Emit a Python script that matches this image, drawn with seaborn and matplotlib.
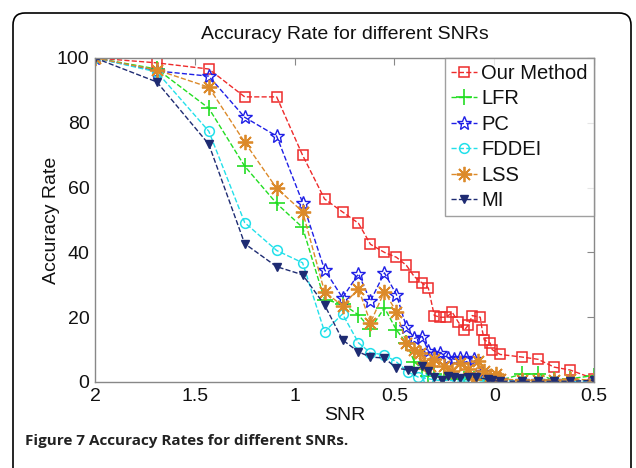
import matplotlib
matplotlib.use("Agg")
import matplotlib.pyplot as plt
from matplotlib.patches import FancyBboxPatch
import seaborn as sns

# ---------------- data ----------------
series_names = ["Our Method", "LFR", "PC", "FDDEI", "LSS", "MI"]

x_our = [2.0, 1.69, 1.43, 1.25, 1.09, 0.96, 0.85, 0.76, 0.68, 0.62, 0.55, 0.49, 0.44, 0.40,
         0.36, 0.33, 0.30, 0.27, 0.24, 0.21, 0.18, 0.15, 0.13, 0.11, 0.07, 0.06, 0.05, 0.02,
         0.01, -0.03, -0.14, -0.22, -0.30, -0.38, -0.50]
y_our = [100, 98.5, 96.6, 88, 88, 70, 56.5, 52.5, 49, 42.5, 40, 38.5, 36, 32.5,
         30.5, 29, 20.5, 20, 20, 21.5, 18.5, 16, 17.5, 20.5, 20, 16, 13, 12,
         10, 8.5, 7.7, 7, 4.6, 3.7, 1]

x_lfr = [2.0, 1.69, 1.43, 1.25, 1.09, 0.96, 0.85, 0.76, 0.68, 0.62, 0.55, 0.49, 0.44, 0.40,
         0.36, 0.33, 0.30, 0.25, 0.20, 0.15, 0.10, 0.05, 0.0, -0.03, -0.14, -0.22, -0.30,
         -0.38, -0.50]
y_lfr = [100, 96.6, 84.5, 66.6, 55.1, 47.7, 25.4, 24.1, 20.7, 16.4, 22.9, 16.1, 12, 6.2,
         4, 2, 2.5, 1.5, 1, 1, 1, 0.5, 1, 0.5, 2.5, 2.5, 0.5, 1, 2]

x_pc = [2.0, 1.69, 1.43, 1.25, 1.09, 0.96, 0.85, 0.76, 0.68, 0.62, 0.55, 0.49, 0.44, 0.40,
        0.36, 0.33, 0.30, 0.27, 0.23, 0.20, 0.17, 0.14, 0.10, 0.06, 0.02, -0.03, -0.14,
        -0.22, -0.30, -0.38, -0.50]
y_pc = [100, 96, 94.4, 81.7, 75.9, 55.4, 34.7, 26, 33.4, 25, 33.7, 27, 17, 13.5,
        14, 9.5, 8.5, 9, 7.5, 7, 7.5, 7.5, 7, 3, 1, 0.5, 0.3,
        0.3, 0.3, 0.3, 0.3]

x_fddei = [2.0, 1.69, 1.43, 1.25, 1.09, 0.96, 0.85, 0.76, 0.68, 0.62, 0.55, 0.49, 0.43, 0.38,
           0.33, 0.28, 0.23, 0.18, 0.13, 0.08, 0.03, -0.03, -0.14, -0.22, -0.30, -0.38, -0.50]
y_fddei = [100, 95.7, 77.4, 49.2, 40.6, 36.8, 15.5, 21, 12.1, 9, 8.4, 6.2, 3, 1.5,
           1, 0.5, 0.5, 0.3, 0.3, 0.3, 0.3, 0.3, 0.3, 0.3, 0.3, 0.3, 0.3]

x_lss = [2.0, 1.69, 1.43, 1.25, 1.09, 0.96, 0.85, 0.76, 0.68, 0.62, 0.55, 0.49, 0.44, 0.40,
         0.37, 0.35, 0.32, 0.30, 0.25, 0.21, 0.17, 0.13, 0.10, 0.08, 0.05, 0.02, -0.01,
         -0.03, -0.14, -0.22, -0.30, -0.38, -0.50]
y_lss = [100, 96.3, 91, 74, 59.8, 52.6, 27.9, 23.5, 28.8, 18.3, 27.9, 21.7, 12, 10,
         9, 6, 5, 7, 5, 3.5, 6, 4, 1, 6.5, 3.5, 2, 2.5,
         1, 0.5, 0.5, 0.5, 1, 0.5]

x_mi = [2.0, 1.69, 1.43, 1.25, 1.09, 0.96, 0.85, 0.76, 0.68, 0.62, 0.55, 0.49, 0.43, 0.40,
        0.36, 0.33, 0.30, 0.26, 0.23, 0.20, 0.17, 0.13, 0.09, 0.03, 0.01, -0.03, -0.14,
        -0.22, -0.30, -0.38, -0.50]
y_mi = [100, 92.6, 73.4, 42.7, 35.6, 33.1, 23.8, 13, 9.3, 7.7, 7.4, 4.3, 3.7, 3.5,
        5, 3.5, 1.5, 0.5, 2, 1.5, 1.3, 1.5, 1.5, 0.8, 0.5, 0.2, 0.2,
        0.2, 0.2, 0.2, 0.5]

x_ticks = [2, 1.5, 1, 0.5, 0, -0.5]
x_tick_labels = ["2", "1.5", "1", "0.5", "0", "0.5"]
y_ticks = [0, 20, 40, 60, 80, 100]

title_text = "Accuracy Rate for different SNRs"
x_label = "SNR"
y_label = "Accuracy Rate"
caption = "Figure 7 Accuracy Rates for different SNRs."

# ---------------- style ----------------
sns.set_style("white")
plt.rcParams["font.family"] = ["Liberation Sans", "DejaVu Sans"]

W, H = 636, 468
fig = plt.figure(figsize=(W / 100, H / 100), dpi=100)

# background frame (pixel coordinates)
bg = fig.add_axes([0, 0, 1, 1], zorder=-5)
bg.set_xlim(0, W)
bg.set_ylim(H, 0)
bg.axis("off")
bg.add_patch(FancyBboxPatch((13, 13), 618, 520, boxstyle="round,pad=0,rounding_size=12",
                            fc="white", ec="black", lw=1.2))
bg.text(25, 441, caption, fontsize=11, fontweight="bold", family=["Open Sans", "DejaVu Sans"],
        va="center", ha="left", color="#222222")

left, right, top, bottom = 95, 594, 58, 382
ax = fig.add_axes([left / W, 1 - bottom / H, (right - left) / W, (bottom - top) / H])

specs = [
    (x_our, y_our, "#ee2b2b", "s", dict(markerfacecolor="none", markersize=7, markeredgewidth=1.1)),
    (x_lfr, y_lfr, "#22dd22", "+", dict(markersize=11, markeredgewidth=1.2)),
    (x_pc, y_pc, "#1f1fe6", "*", dict(markerfacecolor="none", markersize=10, markeredgewidth=1.0)),
    (x_fddei, y_fddei, "#22e0ea", "o", dict(markerfacecolor="none", markersize=7, markeredgewidth=1.1)),
    (x_lss, y_lss, "#dc8a2a", (8, 2, 0), dict(markersize=11, markeredgewidth=1.3)),
    (x_mi, y_mi, "#1e2b72", "v", dict(markerfacecolor="#1e2b72", markersize=6, markeredgewidth=1.0)),
]

for name, (xs, ys, col, mk, extra) in zip(series_names, specs):
    sns.lineplot(x=xs, y=ys, ax=ax, color=col, marker=mk, markeredgecolor=col,
                 linestyle="--", dashes=(3, 1.6), linewidth=1.0, label=name,
                 sort=False, estimator=None, **extra)

ax.set_xlim(2, -0.5)
ax.set_ylim(0, 100)
ax.set_xticks(x_ticks)
ax.set_xticklabels(x_tick_labels)
ax.set_yticks(y_ticks)
ax.tick_params(direction="in", top=True, right=True, length=5, width=0.8,
               color="#888888", labelsize=14, labelcolor="#111111", pad=4)
for s in ax.spines.values():
    s.set_color("#888888")
    s.set_linewidth(1.0)

ax.set_title(title_text, fontsize=14, color="#111111", pad=14)
ax.set_xlabel(x_label, fontsize=14, color="#111111", labelpad=2)
ax.set_ylabel(y_label, fontsize=14, color="#111111", labelpad=-2)

leg = ax.legend(loc="upper right", frameon=True, fancybox=False, fontsize=14.5,
                handlelength=1.3, handletextpad=0.2, labelspacing=0.32, borderpad=0.3,
                borderaxespad=0.0)
leg.get_frame().set_edgecolor("#888888")
leg.get_frame().set_linewidth(1.0)
for t in leg.get_texts():
    t.set_color("#111111")

fig.savefig("out.png", dpi=100)
